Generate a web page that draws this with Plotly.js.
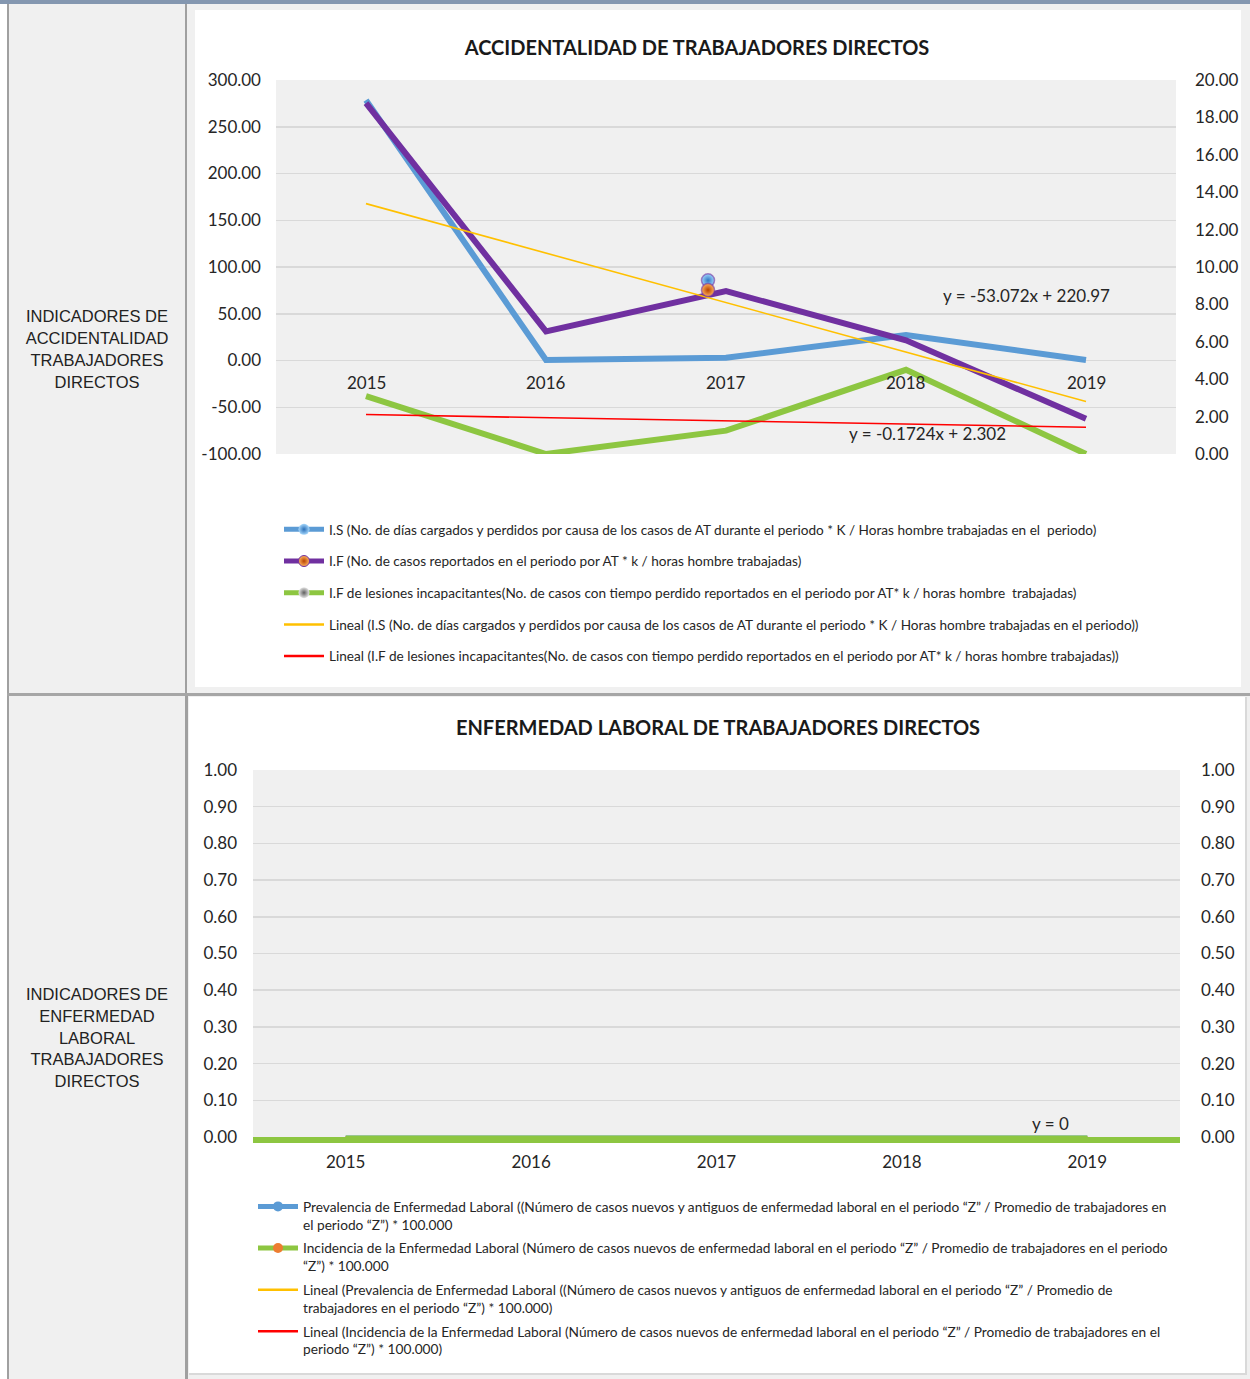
<!DOCTYPE html>
<html>
<head>
<meta charset="utf-8">
<script src="https://cdn.plot.ly/plotly-3.0.1.min.js"></script>
<style>
  html, body { margin:0; padding:0; }
  body { width:1250px; height:1379px; position:relative; background:#f0f0f0; overflow:hidden;
         font-family:"Liberation Sans", Arial, sans-serif; }
  .abs { position:absolute; }
  .side { position:absolute; left:9px; width:176px; text-align:center; font-size:16.5px; line-height:22px; color:#222; }
</style>
</head>
<body>
<div class="abs" style="left:0;top:0;width:1250px;height:4px;background:#8497b0"></div>
<div class="abs" style="left:0;top:4px;width:7px;height:1375px;background:#ffffff"></div>
<div class="abs" style="left:7px;top:4px;width:2px;height:1375px;background:#a0a0a0"></div>
<div class="abs" style="left:185px;top:4px;width:2px;height:690px;background:#a0a0a0"></div>
<div class="abs" style="left:7px;top:693px;width:1243px;height:3px;background:#a6a6a6"></div>
<div class="abs" style="left:185px;top:696px;width:3px;height:683px;background:#a0a0a0"></div>

<div class="side" style="top:305px">INDICADORES DE<br>ACCIDENTALIDAD<br>TRABAJADORES<br>DIRECTOS</div>
<div class="side" style="top:984px;line-height:21.8px">INDICADORES DE<br>ENFERMEDAD<br>LABORAL<br>TRABAJADORES<br>DIRECTOS</div>

<div id="c1" class="abs" style="left:195px;top:10px;width:1046px;height:677px;background:#fff"></div>
<div id="c2" class="abs" style="left:189px;top:697px;width:1056px;height:676px;background:#fff;border-right:2px solid #d9d9d9;border-bottom:2px solid #d9d9d9"></div>

<script>
// ---------- DATA ----------
const years = ['2015', '2016', '2017', '2018', '2019'];

// Chart 1: Accidentalidad
const isValues = [278.5, 0.5, 3.0, 27.3, 0.5];          // left axis
const ifValues = [18.76, 6.56, 8.71, 6.08, 1.88];       // right axis
const ifLesionesValues = [3.1, 0.0, 1.25, 4.5, 0.0];    // right axis
const strayMarkerX = [1.9, 1.9];                         // stray 3D markers near 2017 (left-axis units)
const strayMarkerY = [85.7, 75.4];

const leftTicks1 = ['-100.00', '-50.00', '0.00', '50.00', '100.00', '150.00', '200.00', '250.00', '300.00'];
const rightTicks1 = ['0.00', '2.00', '4.00', '6.00', '8.00', '10.00', '12.00', '14.00', '16.00', '18.00', '20.00'];

const title1 = 'ACCIDENTALIDAD DE TRABAJADORES DIRECTOS';
const names1 = [
  'I.S (No. de días cargados y perdidos por causa de los casos de AT durante el periodo * K / Horas hombre trabajadas en el  periodo)',
  'I.F (No. de casos reportados en el periodo por AT * k / horas hombre trabajadas)',
  'I.F de lesiones incapacitantes(No. de casos con tiempo perdido reportados en el periodo por AT* k / horas hombre  trabajadas)',
  'Lineal (I.S (No. de días cargados y perdidos por causa de los casos de AT durante el periodo * K / Horas hombre trabajadas en el periodo))',
  'Lineal (I.F de lesiones incapacitantes(No. de casos con tiempo perdido reportados en el periodo por AT* k / horas hombre trabajadas))'
];
const trendLabel1a = 'y = -53.072x + 220.97';
const trendLabel1b = 'y = -0.1724x + 2.302';

// Chart 2: Enfermedad laboral
const prevalenciaValues = [0, 0, 0, 0, 0];
const incidenciaValues = [0, 0, 0, 0, 0];
const ticks2 = ['0.00', '0.10', '0.20', '0.30', '0.40', '0.50', '0.60', '0.70', '0.80', '0.90', '1.00'];
const title2 = 'ENFERMEDAD LABORAL DE TRABAJADORES DIRECTOS';
const names2 = [
  'Prevalencia de Enfermedad Laboral ((Número de casos nuevos y antiguos de enfermedad laboral en el periodo “Z” / Promedio de trabajadores en<br>el periodo “Z”) * 100.000',
  'Incidencia de la Enfermedad Laboral (Número de casos nuevos de enfermedad laboral en el periodo “Z” / Promedio de trabajadores en el periodo<br>“Z”) * 100.000',
  'Lineal (Prevalencia de Enfermedad Laboral ((Número de casos nuevos y antiguos de enfermedad laboral en el periodo “Z” / Promedio de<br>trabajadores en el periodo “Z”) * 100.000)',
  'Lineal (Incidencia de la Enfermedad Laboral (Número de casos nuevos de enfermedad laboral en el periodo “Z” / Promedio de trabajadores en el<br>periodo “Z”) * 100.000)'
];
const trendLabel2 = 'y = 0';

// ---------- HELPERS ----------
const FONT = 'Lato, "Open Sans", sans-serif';
const TXT = '#262626';
const idx = years.map((_, i) => i);

// Least-squares linear trend (Excel "Lineal" trendline) over x = 1..n
function linearTrend(vals) {
  const n = vals.length;
  const xs = vals.map((_, i) => i + 1);
  const mx = xs.reduce((a, b) => a + b, 0) / n;
  const my = vals.reduce((a, b) => a + b, 0) / n;
  let sxy = 0, sxx = 0;
  for (let i = 0; i < n; i++) { sxy += (xs[i] - mx) * (vals[i] - my); sxx += (xs[i] - mx) ** 2; }
  const m = sxx ? sxy / sxx : 0;
  const b = my - m * mx;
  return xs.map(x => m * x + b);
}
const ticksToVals = arr => arr.map(s => parseFloat(s));

const C_BLUE = '#5b9bd5', C_PURPLE = '#7030a0', C_GREEN = '#8dc641', C_YEL = '#ffc000', C_RED = '#ff0000';

// ---------- CHART 1 ----------
const hidden = {x: [null], y: [null]};
const traces1 = [
  {x: idx, y: isValues, yaxis: 'y', mode: 'lines', line: {color: C_BLUE, width: 6}, showlegend: false, legendgroup: 'a'},
  {x: idx, y: ifValues, yaxis: 'y2', mode: 'lines', line: {color: C_PURPLE, width: 6}, showlegend: false, legendgroup: 'b'},
  {x: idx, y: ifLesionesValues, yaxis: 'y2', mode: 'lines', line: {color: C_GREEN, width: 6}, showlegend: false, legendgroup: 'c'},
  {x: idx, y: linearTrend(ifLesionesValues), yaxis: 'y2', mode: 'lines', line: {color: C_RED, width: 1.6}, showlegend: false, legendgroup: 'e'},
  {x: idx, y: linearTrend(isValues), yaxis: 'y3', mode: 'lines', line: {color: C_YEL, width: 1.6}, showlegend: false, legendgroup: 'd'},
  {x: strayMarkerX, y: strayMarkerY, yaxis: 'y3', mode: 'markers', showlegend: false,
   marker: {size: 13, color: ['#9fd3fb', '#ffb05a'], gradient: {type: 'radial', color: ['#2f78c4', '#b84300']}, line: {width: 1.5, color: 'rgba(112,48,160,0.6)'}}},
  // legend entries
  Object.assign({name: names1[0], mode: 'lines+markers', legendgroup: 'a', line: {color: C_BLUE, width: 5},
   marker: {size: 11, color: '#a4d6fb', gradient: {type: 'radial', color: '#2a6fb8'}}}, hidden),
  Object.assign({name: names1[1], mode: 'lines+markers', legendgroup: 'b', line: {color: C_PURPLE, width: 5},
   marker: {size: 11, color: '#ffb35e', gradient: {type: 'radial', color: '#b84300'}, line: {width: 1, color: '#7030a0'}}}, hidden),
  Object.assign({name: names1[2], mode: 'lines+markers', legendgroup: 'c', line: {color: C_GREEN, width: 5},
   marker: {size: 11, color: '#e6e6e6', gradient: {type: 'radial', color: '#5f5f5f'}}}, hidden),
  Object.assign({name: names1[3], mode: 'lines', legendgroup: 'd', line: {color: C_YEL, width: 2.5}}, hidden),
  Object.assign({name: names1[4], mode: 'lines', legendgroup: 'e', line: {color: C_RED, width: 2.5}}, hidden)
];

const yearAnn1 = years.map((t, i) => ({x: i, y: 0, xref: 'x', yref: 'y', text: t, showarrow: false, yshift: -22,
  font: {size: 17, color: TXT, family: FONT}}));

const layout1 = {
  width: 1046, height: 677,
  paper_bgcolor: '#ffffff', plot_bgcolor: '#f0f0f0',
  margin: {l: 81, r: 65, t: 70, b: 233, pad: 0, autoexpand: false},
  font: {family: FONT, color: TXT},
  title: {text: '<b>' + title1 + '</b>', font: {size: 20, color: '#1a1a1a', family: FONT},
          xref: 'container', yref: 'container', x: 502 / 1046, y: 1 - 38 / 677, xanchor: 'center', yanchor: 'middle'},
  xaxis: {range: [-0.5, 4.5], showticklabels: false, showgrid: false, zeroline: false, showline: false, ticks: ''},
  yaxis: {range: [-100, 300], tickvals: ticksToVals(leftTicks1), ticktext: leftTicks1, ticks: '',
          showgrid: true, gridcolor: '#d9d9d9', gridwidth: 1.5, zeroline: false, showline: false,
          tickfont: {size: 17, color: TXT}, ticklabelstandoff: 14},
  yaxis2: {overlaying: 'y', side: 'right', range: [0, 20], tickvals: ticksToVals(rightTicks1), ticktext: rightTicks1,
           ticks: '', showgrid: false, zeroline: false, showline: false, tickfont: {size: 17, color: TXT}, ticklabelstandoff: 18},
  yaxis3: {overlaying: 'y', range: [-100, 300], visible: false},
  showlegend: true,
  legend: {xref: 'container', yref: 'container', x: 84 / 1046, y: 1 - 504 / 677, xanchor: 'left', yanchor: 'top',
           font: {size: 13.6, color: TXT, family: FONT}, traceorder: 'grouped', tracegroupgap: 11, itemwidth: 40,
           bgcolor: 'rgba(0,0,0,0)', borderwidth: 0},
  annotations: yearAnn1.concat([
    {x: 3.67, y: 69.6, xref: 'x', yref: 'y', text: trendLabel1a, showarrow: false, font: {size: 17, color: TXT}},
    {x: 3.12, y: -78.5, xref: 'x', yref: 'y', text: trendLabel1b, showarrow: false, font: {size: 17, color: TXT}}
  ])
};

Plotly.newPlot('c1', traces1, layout1, {displayModeBar: false, staticPlot: true});

// ---------- CHART 2 ----------
const traces2 = [
  {x: idx, y: linearTrend(prevalenciaValues), mode: 'lines', line: {color: C_YEL, width: 1.6}, showlegend: false, legendgroup: 'c'},
  {x: idx, y: linearTrend(incidenciaValues), mode: 'lines', line: {color: C_RED, width: 1.6}, showlegend: false, legendgroup: 'd'},
  {x: idx, y: prevalenciaValues, mode: 'lines', line: {color: C_BLUE, width: 3}, showlegend: false, legendgroup: 'a'},
  {x: idx, y: incidenciaValues, mode: 'lines', line: {color: C_GREEN, width: 3}, showlegend: false, legendgroup: 'b'},
  Object.assign({name: names2[0], mode: 'lines+markers', legendgroup: 'a', line: {color: C_BLUE, width: 5},
   marker: {size: 10, color: C_BLUE}}, hidden),
  Object.assign({name: names2[1], mode: 'lines+markers', legendgroup: 'b', line: {color: C_GREEN, width: 5},
   marker: {size: 10, color: '#ed7d31'}}, hidden),
  Object.assign({name: names2[2], mode: 'lines', legendgroup: 'c', line: {color: C_YEL, width: 2.5}}, hidden),
  Object.assign({name: names2[3], mode: 'lines', legendgroup: 'd', line: {color: C_RED, width: 2.5}}, hidden)
];
// dummy trace so the right axis is drawn
traces2.push({x: [null], y: [null], yaxis: 'y2', showlegend: false, hoverinfo: 'skip'});

const layout2 = {
  width: 1056, height: 676,
  paper_bgcolor: '#ffffff', plot_bgcolor: '#f0f0f0',
  margin: {l: 64, r: 65, t: 73, b: 236, pad: 0, autoexpand: false},
  font: {family: FONT, color: TXT},
  title: {text: '<b>' + title2 + '</b>', font: {size: 20, color: '#1a1a1a', family: FONT},
          xref: 'container', yref: 'container', x: 529 / 1056, y: 1 - 31 / 676, xanchor: 'center', yanchor: 'middle'},
  xaxis: {range: [-0.5, 4.5], tickvals: idx, ticktext: years, ticks: '', showgrid: false, zeroline: false,
          showline: true, linecolor: C_GREEN, linewidth: 6, tickfont: {size: 17, color: TXT}, ticklabelstandoff: 5},
  yaxis: {range: [0, 1], tickvals: ticksToVals(ticks2), ticktext: ticks2, ticks: '',
          showgrid: true, gridcolor: '#d9d9d9', gridwidth: 1.5, zeroline: false, showline: false,
          tickfont: {size: 17, color: TXT}, ticklabelstandoff: 15},
  yaxis2: {overlaying: 'y', side: 'right', range: [0, 1], tickvals: ticksToVals(ticks2), ticktext: ticks2, ticks: '',
           showgrid: false, zeroline: false, showline: false, tickfont: {size: 17, color: TXT}, ticklabelstandoff: 20},
  showlegend: true,
  legend: {xref: 'container', yref: 'container', x: 64 / 1056, y: 1 - 494 / 676, xanchor: 'left', yanchor: 'top',
           font: {size: 13.7, color: TXT, family: FONT}, traceorder: 'grouped', tracegroupgap: 3, itemwidth: 40,
           valign: 'top', bgcolor: 'rgba(0,0,0,0)', borderwidth: 0},
  annotations: [
    {x: 3.8, y: 0.038, xref: 'x', yref: 'y', text: trendLabel2, showarrow: false, font: {size: 17, color: TXT}}
  ]
};

Plotly.newPlot('c2', traces2, layout2, {displayModeBar: false, staticPlot: true});
</script>
</body>
</html>
